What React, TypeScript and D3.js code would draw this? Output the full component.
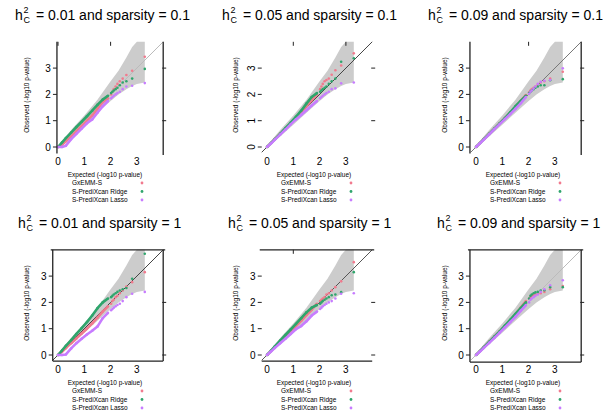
import React from "react";
import * as d3 from "d3";

const W = 603;
const H = 415;
const UNIT = 26.3;
const FONT = "'Liberation Sans', Arial, sans-serif";

const heritability = ["0.01", "0.05", "0.09"];
const sparsity = ["0.1", "1"];
const methods = ["GxEMM-S", "S-PrediXcan Ridge", "S-PrediXcan Lasso"];
const colors = ["#F17A8E", "#2FA56C", "#C77CFF"];
const tickValues = [0, 1, 2, 3];

// expected -log10(p) of the plotted quantiles
const expected = [0, 0.15, 0.3, 0.5, 0.7, 0.9, 1.1, 1.3, 1.5, 1.7, 1.9, 2.02, 2.07, 2.12, 2.19, 2.26, 2.35, 2.46, 2.6, 2.82, 3.3];

// confidence band
const bandX = [0, 0.5, 1.0, 1.5, 2.0, 2.3, 2.6, 2.82, 3.0, 3.3];
const bandHi = [0.05, 0.65, 1.2, 1.8, 2.5, 2.9, 3.4, 3.8, 4.2, 4.6];
const bandLo = [0, 0.4, 0.85, 1.3, 1.75, 2.0, 2.2, 2.32, 2.4, 2.45];

// observed -log10(p), one row per panel
const obsGxemm = [
  [0, 0.08, 0.22, 0.4, 0.6, 0.8, 1.0, 1.2, 1.45, 1.7, 1.85, 2.0, 2.1, 2.2, 2.3, 2.4, 2.5, 2.6, 2.74, 2.9, 3.43],
  [0, 0.15, 0.3, 0.5, 0.7, 0.9, 1.1, 1.32, 1.55, 1.78, 2.0, 2.2, 2.3, 2.4, 2.5, 2.55, 2.6, 2.75, 2.92, 3.1, 3.56],
  [0, 0.15, 0.3, 0.5, 0.7, 0.9, 1.1, 1.3, 1.52, 1.75, 1.98, 2.08, 2.15, 2.2, 2.25, 2.3, 2.38, 2.45, 2.5, 2.6, 2.86],
  [0, 0.12, 0.26, 0.45, 0.63, 0.82, 1.0, 1.2, 1.42, 1.65, 1.85, 1.95, 2.05, 2.1, 2.2, 2.25, 2.35, 2.45, 2.6, 2.77, 3.15],
  [0, 0.15, 0.3, 0.5, 0.7, 0.9, 1.1, 1.3, 1.52, 1.72, 1.95, 2.05, 2.1, 2.15, 2.2, 2.3, 2.35, 2.45, 2.58, 2.8, 3.53],
  [0, 0.15, 0.3, 0.5, 0.7, 0.9, 1.1, 1.32, 1.55, 1.8, 2.05, 2.15, 2.2, 2.25, 2.27, 2.3, 2.32, 2.35, 2.4, 2.5, 2.62],
];
const obsRidge = [
  [0, 0.17, 0.34, 0.55, 0.76, 0.96, 1.17, 1.38, 1.6, 1.8, 1.95, 2.05, 2.1, 2.15, 2.2, 2.25, 2.35, 2.45, 2.5, 2.6, 2.97],
  [0, 0.15, 0.3, 0.5, 0.72, 0.93, 1.15, 1.38, 1.65, 1.9, 2.05, 2.1, 2.15, 2.2, 2.25, 2.3, 2.4, 2.5, 2.6, 3.24, 3.37],
  [0, 0.15, 0.3, 0.5, 0.7, 0.9, 1.1, 1.32, 1.55, 1.75, 1.95, 2.05, 2.1, 2.15, 2.2, 2.25, 2.3, 2.35, 2.35, 2.54, 2.58],
  [0, 0.17, 0.35, 0.57, 0.8, 1.02, 1.25, 1.5, 1.78, 2.0, 2.15, 2.2, 2.25, 2.3, 2.35, 2.4, 2.45, 2.5, 2.55, 2.9, 3.85],
  [0, 0.16, 0.33, 0.55, 0.76, 0.97, 1.18, 1.4, 1.62, 1.8, 1.9, 1.95, 2.0, 2.05, 2.1, 2.15, 2.2, 2.27, 2.3, 2.39, 3.15],
  [0, 0.15, 0.3, 0.5, 0.7, 0.9, 1.12, 1.34, 1.56, 1.78, 2.0, 2.15, 2.25, 2.3, 2.35, 2.38, 2.4, 2.45, 2.46, 2.58, 2.58],
];
const obsLasso = [
  [0, 0, 0.05, 0.3, 0.5, 0.7, 0.9, 1.05, 1.3, 1.55, 1.75, 1.85, 1.9, 1.95, 2.0, 2.05, 2.1, 2.2, 2.3, 2.33, 2.43],
  [0, 0.13, 0.28, 0.47, 0.66, 0.86, 1.05, 1.22, 1.4, 1.58, 1.75, 1.85, 1.9, 1.95, 2.0, 2.05, 2.1, 2.2, 2.23, 2.42, 2.45],
  [0, 0.14, 0.28, 0.48, 0.68, 0.87, 1.06, 1.25, 1.45, 1.66, 1.9, 2.02, 2.1, 2.15, 2.22, 2.3, 2.4, 2.48, 2.52, 2.55, 2.99],
  [0, 0, 0.02, 0.25, 0.45, 0.62, 0.78, 0.92, 1.08, 1.4, 1.6, 1.7, 1.75, 1.8, 1.85, 1.9, 1.95, 2.05, 2.2, 2.33, 2.4],
  [0, 0.13, 0.27, 0.45, 0.62, 0.8, 0.98, 1.1, 1.28, 1.5, 1.65, 1.75, 1.8, 1.85, 1.9, 1.95, 2.0, 2.05, 2.15, 2.33, 2.35],
  [0, 0.13, 0.27, 0.46, 0.65, 0.85, 1.05, 1.25, 1.45, 1.68, 1.9, 2.0, 2.1, 2.15, 2.2, 2.25, 2.3, 2.4, 2.5, 2.65, 2.84],
];

// panel frames (odd, as in the original export)
const panels = [
  { x0: 58, y0: 147, tx: 15, left: -0.04, right: true, top: false, bottom: null, topTicks: [0, 2], rightTicks: [1, 3], diag: "#bbbbbb", rot: false },
  { x0: 267, y0: 147, tx: 222, left: null, right: false, top: false, bottom: null, topTicks: [1, 3], rightTicks: [1, 3], diag: "#444444", rot: true },
  { x0: 476, y0: 147, tx: 428, left: -0.23, right: true, top: false, bottom: null, topTicks: [2], rightTicks: [1, 3], diag: "#777777", rot: false },
  { x0: 58, y0: 355, tx: 18, left: -0.2, right: true, top: true, bottom: -0.23, topTicks: [], rightTicks: [0, 2], diag: "#444444", rot: false },
  { x0: 267, y0: 355, tx: 228, left: null, right: false, top: true, bottom: -0.23, topTicks: [1], rightTicks: [0, 2], diag: "#555555", rot: false },
  { x0: 476, y0: 355, tx: 437, left: -0.23, right: true, top: true, bottom: -0.27, topTicks: [], rightTicks: [0, 2], diag: "#bbbbbb", rot: false },
];

function Panel({ p, i }: { p: any; i: number }) {
  const x = d3.scaleLinear().domain([0, 4]).range([p.x0, p.x0 + 4 * UNIT]);
  const y = d3.scaleLinear().domain([0, 4]).range([p.y0, p.y0 - 4 * UNIT]);
  const band = d3
    .area<number>()
    .x((d) => x(d))
    .y0((d, k) => y(bandLo[k]))
    .y1((d, k) => y(Math.min(bandHi[k], 4)));
  const line = d3
    .line<number>()
    .x((d, k) => x(expected[k]))
    .y((d) => y(d));
  const series = [obsGxemm[i], obsRidge[i], obsLasso[i]];
  const h = heritability[i % 3];
  const s = sparsity[Math.floor(i / 3)];
  const xl = p.left === null ? x(-0.2) : x(p.left);
  const yb = p.bottom === null ? y(-0.25) : y(p.bottom);
  const axis = "#222";
  const d0 = p.left === null ? -0.2 : Math.max(p.left, -0.2);

  return (
    <g>
      <text x={p.tx} y={p.y0 - 127} fontSize={14} fontFamily={FONT}>h</text>
      <text x={p.tx + 8.5} y={p.y0 - 134} fontSize={9} fontFamily={FONT}>2</text>
      <text x={p.tx + 8.5} y={p.y0 - 124} fontSize={9} fontFamily={FONT}>C</text>
      <text x={p.tx + 17} y={p.y0 - 127} fontSize={14} fontFamily={FONT} xmlSpace="preserve">
        {` = ${h} and sparsity = ${s}`}
      </text>

      <path d={band(bandX) || ""} fill="#cccccc" />
      <line x1={x(d0)} y1={y(d0)} x2={x(4)} y2={y(4)} stroke={p.diag} strokeWidth={1} />

      {series.map((vals, si) => (
        <g key={si}>
          <path d={line(vals.slice(0, 11)) || ""} fill="none" stroke={colors[si]} strokeWidth={2.6} strokeLinejoin="round" />
          {vals.map((v, k) => (
            <circle key={k} cx={x(expected[k])} cy={y(v)} r={1.3} fill={colors[si]} />
          ))}
        </g>
      ))}

      {p.left !== null && <line x1={xl} x2={xl} y1={y(4)} y2={yb} stroke={axis} strokeWidth={1.3} />}
      {p.right && <line x1={x(4)} x2={x(4)} y1={y(4)} y2={p.bottom === null ? y(-0.3) : yb} stroke={axis} strokeWidth={1.3} />}
      {p.top && <line x1={xl - 2} x2={x(4) + 2} y1={y(4)} y2={y(4)} stroke={axis} strokeWidth={1.3} />}
      {p.bottom !== null && <line x1={xl} x2={x(4)} y1={yb} y2={yb} stroke={axis} strokeWidth={1.3} />}

      {tickValues.map((t) => (
        <g key={"y" + t}>
          <line x1={xl - 4} x2={xl} y1={y(t)} y2={y(t)} stroke={axis} />
          {p.rot ? (
            <text transform={`translate(${xl - 7},${y(t)}) rotate(-90)`} textAnchor="middle" fontSize={10} fontFamily={FONT}>{t}</text>
          ) : (
            <text x={xl - 9} y={y(t) + 3.5} textAnchor="middle" fontSize={10} fontFamily={FONT}>{t}</text>
          )}
          <text x={x(t)} y={p.y0 + 18} textAnchor="middle" fontSize={10} fontFamily={FONT}>{t}</text>
        </g>
      ))}
      {p.topTicks.map((t: number) => (
        <line key={"t" + t} x1={x(t)} x2={x(t)} y1={y(4)} y2={y(4) + 4} stroke={axis} />
      ))}
      {p.rightTicks.map((t: number) => (
        <line key={"r" + t} x1={x(4) - 1} x2={x(4) + 3} y1={y(t)} y2={y(t)} stroke={axis} />
      ))}

      <text transform={`translate(${p.x0 - 29},${p.y0 - 52}) rotate(-90)`} textAnchor="middle" fontSize={6.5} fontFamily={FONT}>
        Observed (-log10 p-value)
      </text>
      <text x={p.x0 + 47} y={p.y0 + 30} textAnchor="middle" fontSize={6.5} fontFamily={FONT}>
        Expected (-log10 p-value)
      </text>
      {methods.map((m, mi) => (
        <g key={m}>
          <text x={p.x0 + 14} y={p.y0 + 38 + mi * 8.5} fontSize={6.5} fontFamily={FONT}>{m}</text>
          <circle cx={p.x0 + 84} cy={p.y0 + 36 + mi * 8.5} r={1.4} fill={colors[mi]} />
        </g>
      ))}
    </g>
  );
}

export default function App() {
  return (
    <svg width={W} height={H} style={{ position: "absolute", left: 0, top: 0, background: "#fff" }}>
      <rect width={W} height={H} fill="#fff" />
      {panels.map((p, i) => (
        <Panel key={i} p={p} i={i} />
      ))}
    </svg>
  );
}
